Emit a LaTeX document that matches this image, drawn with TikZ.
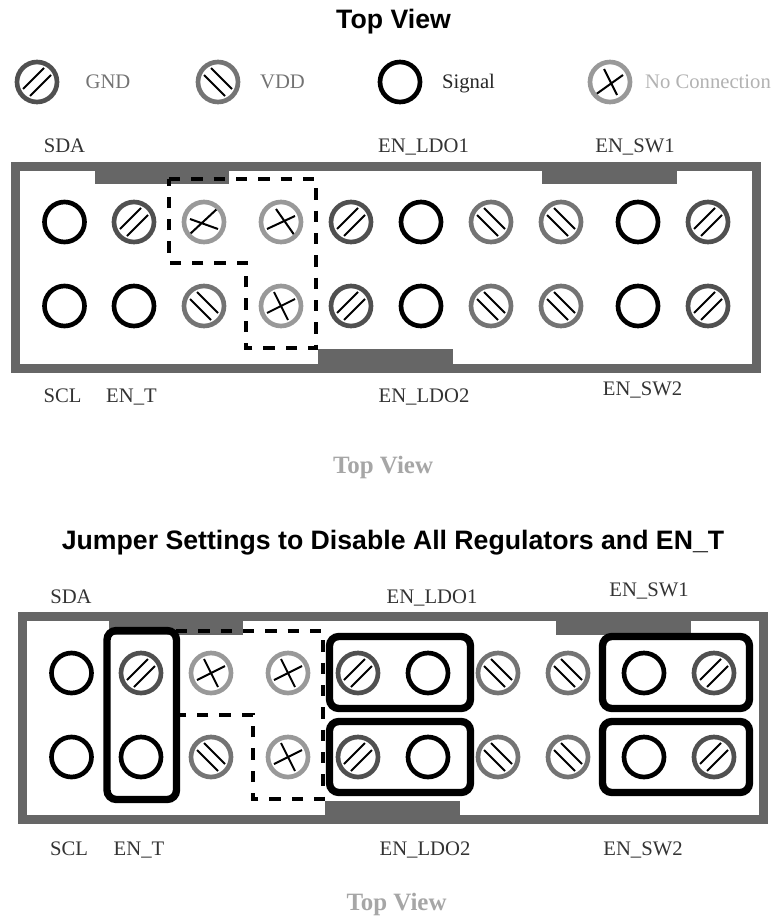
\documentclass[tikz,border=0pt]{standalone}
\usepackage{fontspec}
\setmainfont{Liberation Serif}
\newfontfamily\titlefont{Liberation Sans}
\definecolor{framegray}{HTML}{666666}
\definecolor{gndgray}{HTML}{505050}
\definecolor{vddgray}{HTML}{747474}
\definecolor{nocgray}{HTML}{999999}
\tikzset{
  pinbase/.style={circle,draw,line width=3.5pt,minimum size=30pt,inner sep=0pt},
  stripe/.style={black,line width=1.5pt,shift={(path picture bounding box.center)}},
  pinsig/.style={pinbase,draw=black},
  pingnd/.style={pinbase,draw=gndgray,path picture={
    \draw[stripe] (-14,7) -- (7,-14) (-7,14) -- (14,-7);}},
  pinvdd/.style={pinbase,draw=vddgray,path picture={
    \draw[stripe] (-7,-14) -- (14,7) (-14,-7) -- (7,14);}},
  pinx/.style 2 args={pinbase,draw=nocgray,path picture={
    \draw[stripe] #1 #2;}},
  pinnoc/.style={pinx={(-14,7) -- (14,-7)}{(-7,-14) -- (7,14)}},
  pinnocb/.style={pinx={(-14,7) -- (14,-6)}{(-5,-13) -- (14,14)}},
  pinnocc/.style={pinx={(-14,12) -- (14,-14)}{(-14,-3) -- (14,7)}},
  pinnocd/.style={pinx={(-15,13) -- (13,-7)}{(-6,-13) -- (7,13)}},
  frameline/.style={draw=framegray,line width=6.75pt},
  tabfill/.style={fill=framegray},
  dashline/.style={black,line width=2.3pt,dash pattern=on 8.6pt off 8.15pt},
  jumper/.style={black,line width=5.5pt,rounded corners=7pt},
  pintext/.style={font=\fontsize{15.5}{18}\selectfont,text=black!80,inner sep=0pt,text height=10pt,text depth=0pt},
  sideview/.style={font=\fontsize{18.7}{22}\selectfont\bfseries,text=black!35,inner sep=0pt,text height=12.3pt,text depth=0pt},
  heading/.style={font=\titlefont\fontsize{20}{24}\selectfont\bfseries,inner sep=0pt,text height=14.3pt,text depth=0pt},
}
\begin{document}
\begin{tikzpicture}[x=0.75pt,y=-0.75pt]
  \useasboundingbox (0,0) rectangle (772,917);
  \node[heading] (title1) at (393.5,19) {Top View};
  \node[heading] (title2) at (393,540) {Jumper Settings to Disable All Regulators and EN\_T};
  % legend
  \path
    (37,82) node[pingnd] (leggnd){}
    (218,82) node[pinvdd] (legvdd){}
    (400,82) node[pinsig] (legsig){}
    (610,82) node[pinnocd] (legnoc){};
  \node[pintext,text=black!55] (txtgnd) at (108,82) {GND};
  \node[pintext,text=black!55] (txtvdd) at (282.5,82) {VDD};
  \node[pintext,text=black!85] (txtsig) at (468.5,82) {Signal};
  \node[pintext,text=black!30] (txtnoc) at (708,82) {No Connection};
  % top board
  \draw[frameline] (15.5,166.5) rectangle (756.5,368.5);
  \fill[tabfill] (95,162) rectangle (229,184);
  \fill[tabfill] (542,162) rectangle (677,184);
  \fill[tabfill] (318,349) rectangle (453,373);
  \draw[dashline] (169,179) -- (316,179) -- (316,348) -- (246,348) -- (246,263) -- (169,263) -- cycle;
  \path
    (64.5,222) node[pinsig] (a1){}
    (134,222) node[pingnd] (a2){}
    (204,222) node[pinnocc] (a3){}
    (281,222) node[pinnocb] (a4){}
    (351,222) node[pingnd] (a5){}
    (421,222) node[pinsig] (a6){}
    (491,222) node[pinvdd] (a7){}
    (561,222) node[pinvdd] (a8){}
    (638,222) node[pinsig] (a9){}
    (708,222) node[pingnd] (a10){}
    (64.5,306) node[pinsig] (b1){}
    (134,306) node[pinsig] (b2){}
    (204,306) node[pinvdd] (b3){}
    (281,306) node[pinnoc] (b4){}
    (351,306) node[pingnd] (b5){}
    (421,306) node[pinsig] (b6){}
    (491,306) node[pinvdd] (b7){}
    (561,306) node[pinvdd] (b8){}
    (638,306) node[pinsig] (b9){}
    (708,306) node[pingnd] (b10){};
  \node[pintext] (sda1) at (64.5,146) {SDA};
  \node[pintext] (ldoa1) at (423.5,146) {EN\_LDO1};
  \node[pintext] (swa1) at (635,146) {EN\_SW1};
  \node[pintext] (scl1) at (62.5,396) {SCL};
  \node[pintext] (ent1) at (131.5,396) {EN\_T};
  \node[pintext] (ldob1) at (424,396) {EN\_LDO2};
  \node[pintext] (swb1) at (642.5,389) {EN\_SW2};
  \node[sideview] (view1) at (383,465) {Top View};
  % jumper board
  \draw[frameline] (22.5,616.5) rectangle (763.5,819.5);
  \fill[tabfill] (109,612) rectangle (243,635);
  \fill[tabfill] (556,612) rectangle (691,635);
  \fill[tabfill] (325,801) rectangle (460,824);
  \draw[dashline] (176,631) -- (323,631) -- (323,799) -- (253,799) -- (253,715) -- (176,715) -- cycle;
  \draw[jumper] (107,630.5) rectangle (176.5,799.5);
  \draw[jumper] (329.5,636.5) rectangle (470.5,708.5);
  \draw[jumper] (329.5,721.5) rectangle (470.5,792.5);
  \draw[jumper] (602.5,636.5) rectangle (749.5,708.5);
  \draw[jumper] (602.5,721.5) rectangle (749.5,792.5);
  \path
    (71.5,673) node[pinsig] (c1){}
    (141,673) node[pingnd] (c2){}
    (211,673) node[pinnoc] (c3){}
    (288,673) node[pinnoc] (c4){}
    (358,673) node[pingnd] (c5){}
    (428,673) node[pinsig] (c6){}
    (498,673) node[pinvdd] (c7){}
    (568,673) node[pinvdd] (c8){}
    (644,673) node[pinsig] (c9){}
    (714,673) node[pingnd] (c10){}
    (71.5,757) node[pinsig] (d1){}
    (141,757) node[pinsig] (d2){}
    (211,757) node[pinvdd] (d3){}
    (288,757) node[pinnoc] (d4){}
    (358,757) node[pingnd] (d5){}
    (428,757) node[pinsig] (d6){}
    (498,757) node[pinvdd] (d7){}
    (568,757) node[pinvdd] (d8){}
    (644,757) node[pinsig] (d9){}
    (714,757) node[pingnd] (d10){};
  \node[pintext] (sda2) at (71,597) {SDA};
  \node[pintext] (ldoa2) at (432,597) {EN\_LDO1};
  \node[pintext] (swa2) at (649,590) {EN\_SW1};
  \node[pintext] (scl2) at (69,849) {SCL};
  \node[pintext] (ent2) at (139,849) {EN\_T};
  \node[pintext] (ldob2) at (425,849) {EN\_LDO2};
  \node[pintext] (swb2) at (643,849) {EN\_SW2};
  \node[sideview] (view2) at (396.5,902) {Top View};
\end{tikzpicture}
\end{document}
